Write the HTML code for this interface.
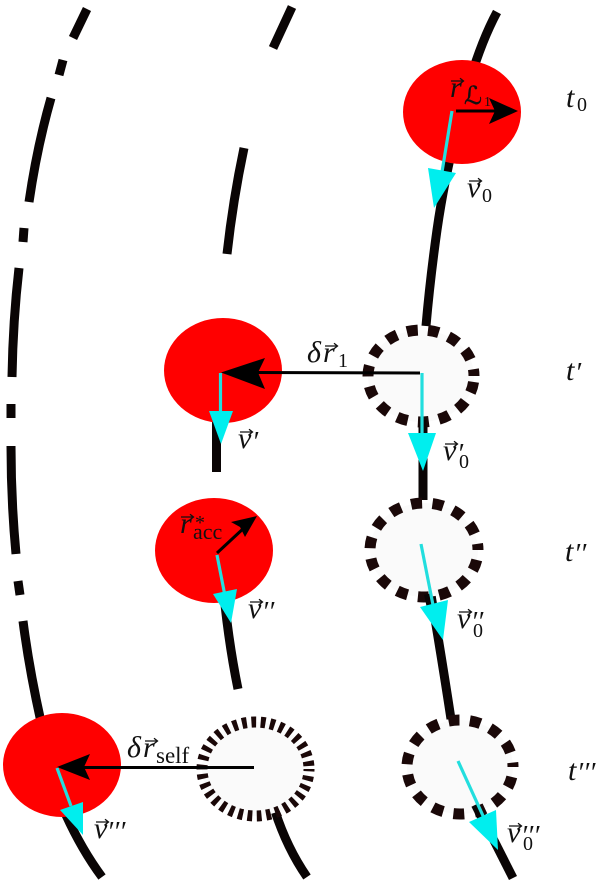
<!DOCTYPE html>
<html>
<head>
<meta charset="utf-8">
<style>
html,body{margin:0;padding:0;background:#fff}
svg{display:block}
text{font-family:"Liberation Serif",serif;fill:#111}
.m{font-style:italic;font-size:30px}
.s{font-size:20px}
.p{font-size:28px;font-style:italic}
.v{fill:none;stroke:#111;stroke-width:1.300}
</style>
</head>
<body>
<svg width="600" height="886" viewBox="0 0 600 886" xmlns="http://www.w3.org/2000/svg">
<defs>
<path id="va" d="M0 0H12M9 -2.800L12.500 0L9 2.800" class="v"/>
</defs>
<!-- curves -->
<g fill="none" stroke="#0a0505" stroke-width="9">
<path d="M87 9L73 38"/>
<path d="M63 60L59 75"/>
<path d="M51 98Q37 147 29 202"/>
<path d="M24 228L23 242"/>
<path d="M19 268Q13 320 12 377"/>
<path d="M11 404V418"/>
<path d="M11 446Q11 500 16 554"/>
<path d="M18 581L20 595"/>
<path d="M23 621Q29 668 41 722"/>
<path d="M292 7L273 48"/>
<path d="M244 148Q233 200 227 254"/>
<path d="M497 12Q482 40 470 80Q447 160 437 230Q430 280 426 326"/>
<path d="M216.500 415V472"/>
<path d="M423 420V500"/>
<path d="M225 605Q230 650 238 689"/>
<path d="M431 595Q442 660 451 719"/>
<path d="M66 815Q82 850 102 877"/>
<path d="M275 811Q287 848 307 877"/>
<path d="M477 807L513 878"/>
</g>
<!-- ellipses -->
<g fill="#f00">
<ellipse cx="462" cy="112" rx="59" ry="52"/>
<ellipse cx="223" cy="370.500" rx="59" ry="52.500"/>
<ellipse cx="214" cy="550.500" rx="59" ry="52.500"/>
<ellipse cx="62" cy="765" rx="59" ry="52"/>
</g>
<g fill="#fafafa" stroke="#1a0808" stroke-width="11">
<ellipse cx="421" cy="376" rx="53" ry="46" stroke-dasharray="11 10.300" stroke-dashoffset="-6"/>
<ellipse cx="424" cy="550" rx="54" ry="47" stroke-dasharray="11 10.500" stroke-dashoffset="-10"/>
<ellipse cx="255.500" cy="769" rx="53.500" ry="47" stroke-dasharray="4.800 4.600" stroke-dashoffset="2.400"/>
<ellipse cx="460" cy="767" rx="53" ry="47" stroke-dasharray="11 10.400" stroke-dashoffset="-10"/>
</g>
<path d="M423 420V434" stroke="#0a0505" stroke-width="7" fill="none"/>
<path d="M475 805L485 825" stroke="#0a0505" stroke-width="8" fill="none"/>
<path d="M428 594L431 608" stroke="#0a0505" stroke-width="8" fill="none"/>
<!-- black arrows -->
<g stroke="#000" stroke-width="3" fill="none">
<path d="M456 111H498"/>
<path d="M420 373L245 372.500"/>
<path d="M217 553L245 527"/>
<path d="M254 767.500H75"/>
</g>
<g fill="#000">
<path d="M518 111L489 98L495 111L489 124Z"/>
<path d="M221 372.500L265 358L258 372.500L265 389Z"/>
<path d="M257 516L245 537L240 527L231 522Z"/>
<path d="M57 767L90 754L84 767L90 780Z"/>
</g>
<!-- cyan arrows -->
<g stroke="#22dede" stroke-width="3.200" fill="none">
<path d="M452 111L442 172"/>
<path d="M220.500 373V412"/>
<path d="M422 373V435"/>
<path d="M217 555L225 596"/>
<path d="M421 544L433 605"/>
<path d="M57 768L71 806"/>
<path d="M458 761L484 818"/>
</g>
<g fill="#0ee">
<path d="M428 168L456 173L434 208Z"/>
<path d="M209 411H233L221 444Z"/>
<path d="M408 433H436L423 471Z"/>
<path d="M213 594L237 589L231 623Z"/>
<path d="M420 607L448 600L443 640Z"/>
<path d="M60 810L83 802L83 835Z"/>
<path d="M469 822L496 810L498 850Z"/>
</g>
<!-- labels -->
<text class="m" x="450" y="97">r</text><use href="#va" x="451" y="81"/>
<text x="464" y="104" style="font-family:'DejaVu Serif','Liberation Serif',serif;font-size:25px;stroke:#111;stroke-width:.4">ℒ</text><text x="484" y="106" style="font-size:14px">1</text>
<text class="m" x="467" y="197">v</text><use href="#va" x="469" y="181"/><text class="s" x="482" y="202">0</text>
<text class="m" x="566" y="107">t</text><text class="s" x="577" y="111">0</text>

<text class="m" x="307" y="362">δ</text><text class="m" x="323" y="362">r</text><use href="#va" x="325" y="346"/><text class="s" x="338" y="367">1</text>
<text class="m" x="238" y="448">v</text><use href="#va" x="240" y="432"/><text class="p" x="252" y="451">′</text>
<text class="m" x="443" y="460">v</text><use href="#va" x="445" y="444"/><text class="p" x="457" y="463">′</text><text class="s" x="459" y="468">0</text>
<text class="m" x="566" y="380">t</text><text class="p" x="575" y="382">′</text>

<text class="m" x="180" y="533">r</text><use href="#va" x="181" y="517"/><text class="s" x="195" y="529">*</text><text x="193" y="539" style="font-size:22px">acc</text>
<text class="m" x="248" y="618">v</text><use href="#va" x="250" y="602"/><text class="p" x="262" y="621">′′</text>
<text class="m" x="457" y="628">v</text><use href="#va" x="459" y="612"/><text class="p" x="471" y="631">′′</text><text class="s" x="473" y="637">0</text>
<text class="m" x="565" y="561">t</text><text class="p" x="574" y="563">′′</text>

<text class="m" x="127" y="757">δ</text><text class="m" x="143" y="757">r</text><use href="#va" x="145" y="741"/><text x="156" y="763" style="font-size:23px">self</text>
<text class="m" x="94" y="838">v</text><use href="#va" x="96" y="822"/><text class="p" x="107" y="841">′′′</text>
<text class="m" x="507" y="842">v</text><use href="#va" x="509" y="826"/><text class="p" x="521" y="845">′′′</text><text class="s" x="523" y="850">0</text>
<text class="m" x="568" y="780">t</text><text class="p" x="577" y="782">′′′</text>
</svg>
</body>
</html>
